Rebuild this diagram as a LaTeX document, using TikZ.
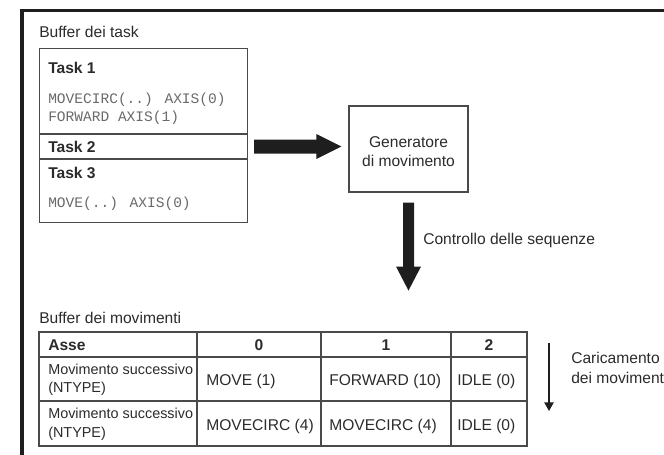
\documentclass[tikz,border=0pt]{standalone}
\usepackage{fontspec}
\setmainfont{Liberation Sans}
\newfontfamily\monof{Liberation Mono}
\usetikzlibrary{arrows.meta,calc}
\definecolor{txtc}{HTML}{2B2B2B}
\definecolor{monoc}{HTML}{6A6A6A}
\definecolor{linec}{HTML}{4A4A4A}
\definecolor{arrc}{HTML}{1E1E1E}
\begin{document}
\begin{tikzpicture}[x=0.75pt,y=-0.75pt,
  txt/.style={inner sep=0pt, text=txtc, font=\fontsize{11.7}{14}\selectfont},
  btxt/.style={inner sep=0pt, text=txtc, font=\fontsize{11.7}{14}\selectfont\bfseries},
  stxt/.style={inner sep=0pt, text=txtc, font=\fontsize{10.8}{13.5}\selectfont},
  mono/.style={inner sep=0pt, text=monoc, font=\monof\fontsize{10.9}{13.2}\selectfont},
  boxl/.style={draw=linec, line width=0.8pt},
  gridl/.style={draw=linec, line width=0.8pt},
  framel/.style={draw=arrc, line width=2.4pt},
  thinarr/.style={draw=arrc, line width=1.1pt, -{Triangle[length=6.5pt,width=7pt]}},
]
\useasboundingbox (0,0) rectangle (664,454);
% outer frame (cropped)
\draw[framel] (22,480) |- (700,10.5);

% task buffer
\node[txt, anchor=base west] (bt) at (39,37) {Buffer dei task};
\node[boxl, inner sep=0pt, anchor=north west, minimum width=156pt, minimum height=130.5pt] (tasks) at (39,48) {};
\draw[boxl] (39,134) -- (247,134);
\draw[boxl] (39,159) -- (247,159);
\node[btxt, anchor=base west] (t1) at (48,73) {Task 1};
\node[mono, anchor=base west] (c1a) at (48,103) {MOVECIRC(..) AXIS(0)};
\node[mono, anchor=base west] (c1b) at (48,121) {FORWARD AXIS(1)};
\node[btxt, anchor=base west] (t2) at (48,152) {Task 2};
\node[btxt, anchor=base west] (t3) at (48,178) {Task 3};
\node[mono, anchor=base west] (c3) at (48,207) {MOVE(..) AXIS(0)};
\coordinate (t2row) at (0,146.5);

% generator
\node[boxl, inner sep=0pt, minimum width=89.25pt, minimum height=64.5pt] (gen) at (408.5,149) {};
\node[txt, anchor=base] (gen1) at (408.5,147) {Generatore};
\node[txt, anchor=base] (gen2) at (408.5,166) {di movimento};

% big horizontal arrow
\coordinate (ha) at ($(tasks.east |- t2row)+(6,0)$);
\coordinate (hb) at ($(gen.west |- t2row)+(-7,0)$);
\fill[arrc] ($(ha)+(0,-7)$) -- ($(hb)+(-25,-7)$) -- ($(hb)+(-25,-12.5)$) -- (hb)
  -- ($(hb)+(-25,12.5)$) -- ($(hb)+(-25,7)$) -- ($(ha)+(0,7)$) -- cycle;

% big vertical arrow
\coordinate (va) at ($(gen.south)+(0,10)$);
\coordinate (vb) at ($(gen.south)+(0,98)$);
\fill[arrc] ($(va)+(-5.5,0)$) -- ($(vb)+(-5.5,-24)$) -- ($(vb)+(-12.5,-24)$) -- (vb)
  -- ($(vb)+(12.5,-24)$) -- ($(vb)+(5.5,-24)$) -- ($(va)+(5.5,0)$) -- cycle;
\node[txt, anchor=base west] (ctrl) at (423,244) {Controllo delle sequenze};

% motion buffer table
\node[txt, anchor=base west] (bm) at (39,323) {Buffer dei movimenti};
\draw[gridl] (39,332) rectangle (527,446);
\draw[gridl] (39,357) -- (527,357);
\draw[gridl] (39,401) -- (527,401);
\draw[gridl] (197,332) -- (197,446);
\draw[gridl] (321,332) -- (321,446);
\draw[gridl] (451,332) -- (451,446);

\node[btxt, anchor=base west] (hasse) at (48,350) {Asse};
\node[btxt, anchor=base] (h0) at (259,350) {0};
\node[btxt, anchor=base] (h1) at (386,350) {1};
\node[btxt, anchor=base] (h2) at (489,350) {2};

\node[stxt, anchor=base west] (r1a) at (48,374) {Movimento successivo};
\node[stxt, anchor=base west] (r1b) at (48,392.5) {(NTYPE)};
\node[txt, anchor=base west] (r1c0) at (206,385) {MOVE (1)};
\node[txt, anchor=base west] (r1c1) at (329,385) {FORWARD (10)};
\node[txt, anchor=base west] (r1c2) at (457,385) {IDLE (0)};

\node[stxt, anchor=base west] (r2a) at (48,418.5) {Movimento successivo};
\node[stxt, anchor=base west] (r2b) at (48,437) {(NTYPE)};
\node[txt, anchor=base west] (r2c0) at (206,430) {MOVECIRC (4)};
\node[txt, anchor=base west] (r2c1) at (329,430) {MOVECIRC (4)};
\node[txt, anchor=base west] (r2c2) at (457,430) {IDLE (0)};

% loading arrow
\coordinate (la) at (549,343);
\coordinate (lb) at (549,411);
\draw[thinarr] (la) -- (lb);
\node[txt, anchor=base west] (car1) at (571,363) {Caricamento};
\node[txt, anchor=base west] (car2) at (571,383) {dei movimenti};
\end{tikzpicture}
\end{document}
